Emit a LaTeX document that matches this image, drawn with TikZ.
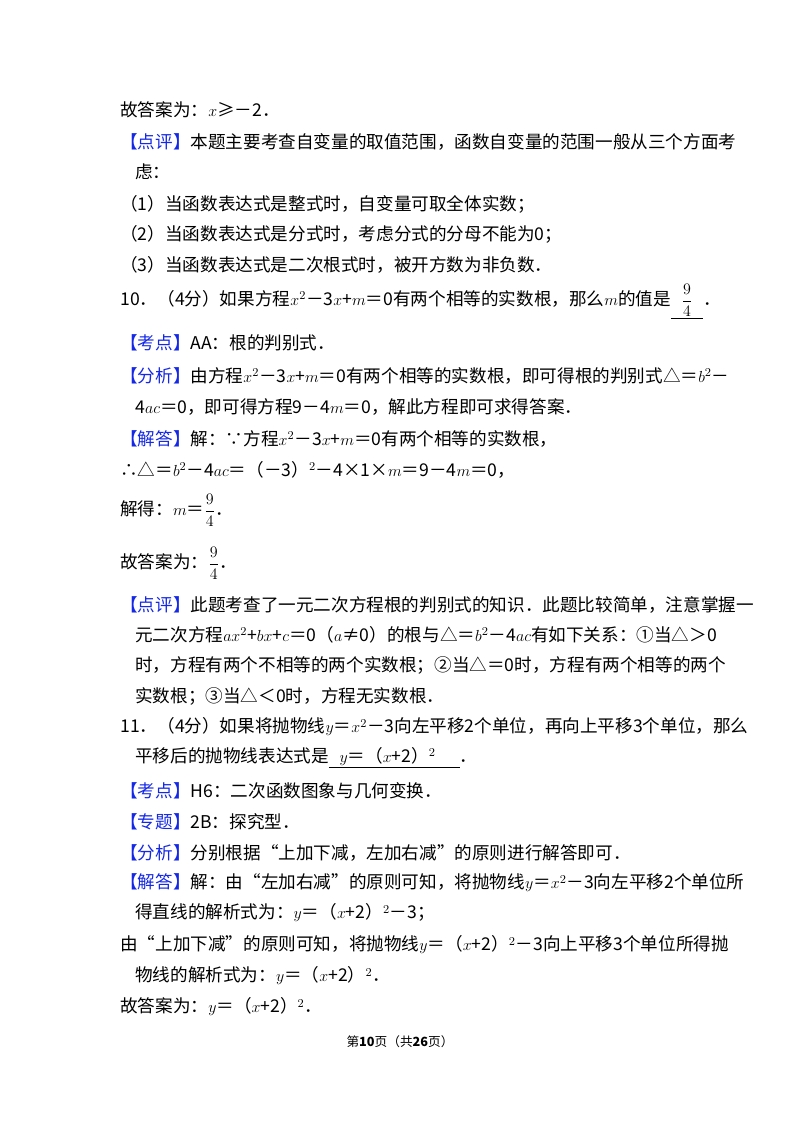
\documentclass[tikz,border=0pt]{standalone}
\usepackage{fontspec}
\setmainfont{Noto Sans CJK SC}
\usetikzlibrary{positioning}
\definecolor{tagblue}{RGB}{20,40,230}
\newcommand{\lbl}[1]{{\color{tagblue}【#1】}}
\newcommand{\blank}[1]{\underline{\hspace{8pt}#1\hspace{8pt}}}
\newcommand{\ninefourth}{$\displaystyle\frac{9}{4}$}

\begin{document}
\begin{tikzpicture}[
    x=0.75pt, y=-0.75pt,
    line/.style={anchor=west, inner sep=0pt, font=\fontsize{13.2}{16}\selectfont},
    foot/.style={anchor=center, inner sep=0pt, font=\fontsize{9.5}{12}\selectfont}
]
\useasboundingbox (0,0) rectangle (800,1132);

% question 9 (end)
\node[line] (l1) at (120,110) {故答案为：$x$≥－2．};
\node[line] (l2) at (120,142) {\lbl{点评}本题主要考查自变量的取值范围，函数自变量的范围一般从三个方面考};
\node[line] (l3) at (135,172) {虑：};
\node[line] (l4) at (120,204) {（1）当函数表达式是整式时，自变量可取全体实数；};
\node[line] (l5) at (120,234) {（2）当函数表达式是分式时，考虑分式的分母不能为0；};
\node[line] (l6) at (120,265) {（3）当函数表达式是二次根式时，被开方数为非负数．};

% question 10
\node[line] (l7) at (120,302) {10．（4分）如果方程$x^2$－3$x$+$m$＝0有两个相等的实数根，那么$m$的值是\blank{\ninefourth}．};
\node[line] (l8) at (120,343) {\lbl{考点}AA：根的判别式．};
\node[line] (l9) at (120,376) {\lbl{分析}由方程$x^2$－3$x$+$m$＝0有两个相等的实数根，即可得根的判别式△＝$b^2$－};
\node[line] (l10) at (135,407) {4$ac$＝0，即可得方程9－4$m$＝0，解此方程即可求得答案．};
\node[line] (l11) at (120,439) {\lbl{解答}解：∵方程$x^2$－3$x$+$m$＝0有两个相等的实数根，};
\node[line] (l12) at (120,470) {∴△＝$b^2$－4$ac$＝（－3）$^2$－4×1×$m$＝9－4$m$＝0，};
\node[line] (l13) at (120,510) {解得：$m$＝\ninefourth．};
\node[line] (l14) at (120,563) {故答案为：\ninefourth．};
\node[line] (l15) at (120,605) {\lbl{点评}此题考查了一元二次方程根的判别式的知识．此题比较简单，注意掌握一};
\node[line] (l16) at (135,635) {元二次方程$ax^2$+$bx$+$c$＝0（$a$≠0）的根与△＝$b^2$－4$ac$有如下关系：①当△＞0};
\node[line] (l17) at (135,665) {时，方程有两个不相等的两个实数根；②当△＝0时，方程有两个相等的两个};
\node[line] (l18) at (135,696) {实数根；③当△＜0时，方程无实数根．};

% question 11
\node[line] (l19) at (120,727) {11．（4分）如果将抛物线$y$＝$x^2$－3向左平移2个单位，再向上平移3个单位，那么};
\node[line] (l20) at (135,758) {平移后的抛物线表达式是\blank{$y$＝（$x$+2）$^2$\hspace{10pt}}．};
\node[line] (l21) at (120,791) {\lbl{考点}H6：二次函数图象与几何变换．};
\node[line] (l22) at (120,822) {\lbl{专题}2B：探究型．};
\node[line] (l23) at (120,853) {\lbl{分析}分别根据“上加下减，左加右减”的原则进行解答即可．};
\node[line] (l24) at (120,883) {\lbl{解答}解：由“左加右减”的原则可知，将抛物线$y$＝$x^2$－3向左平移2个单位所};
\node[line] (l25) at (135,913) {得直线的解析式为：$y$＝（$x$+2）$^2$－3；};
\node[line] (l26) at (120,945) {由“上加下减”的原则可知，将抛物线$y$＝（$x$+2）$^2$－3向上平移3个单位所得抛};
\node[line] (l27) at (135,976) {物线的解析式为：$y$＝（$x$+2）$^2$．};
\node[line] (l28) at (120,1007) {故答案为：$y$＝（$x$+2）$^2$．};

% footer
\node[foot] (page) at (400,1042) {第\textbf{10}页（共\textbf{26}页）};
\end{tikzpicture}
\end{document}
